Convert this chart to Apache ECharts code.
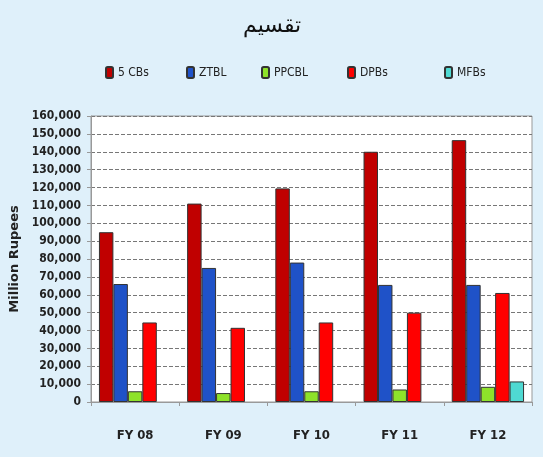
<!DOCTYPE html>
<html><head><meta charset="utf-8">
<script src="https://cdn.jsdelivr.net/npm/echarts@6/dist/echarts.min.js"></script>
<style>html,body{margin:0;padding:0;background:#dff0fa;}#c{width:543px;height:457px;}</style>
</head><body><div id="c"></div>
<script>
var categories = ['FY 08', 'FY 09', 'FY 10', 'FY 11', 'FY 12'];
var cbs5 = [95000, 111000, 119500, 140000, 146500];
var ztbl = [66000, 75000, 78000, 65500, 65500];
var ppcbl = [6000, 5000, 6000, 7000, 8500];
var dpbs = [44500, 41500, 44500, 50000, 61000];
var mfbs = [null, null, null, null, 11500];
var seriesNames = ['5 CBs', 'ZTBL', 'PPCBL', 'DPBs', 'MFBs'];
var colors = ['#c00000', '#1f52c8', '#8ee22a', '#ff0000', '#4fd9d2'];
var legendX = [100, 181, 256, 342, 439];

var chart = echarts.init(document.getElementById('c'));
var dataSets = [cbs5, ztbl, ppcbl, dpbs, mfbs];
var font = '"DejaVu Sans Condensed", "Liberation Sans Narrow", "Arial Narrow", sans-serif';
var legends = seriesNames.map(function (n, i) {
  return {
    data: [n], left: legendX[i], top: 61, itemWidth: 7, itemHeight: 11, itemGap: 4,
    textStyle: { fontFamily: font, fontSize: 12, color: '#222' }, selectedMode: false
  };
});
chart.setOption({
  backgroundColor: '#dff0fa',
  color: colors,
  title: {
    text: 'تقسیم', left: 238, top: 10,
    textStyle: { fontFamily: '"DejaVu Sans", sans-serif', fontSize: 22, fontWeight: 'normal', color: '#111' }
  },
  legend: legends,
  grid: { left: 91, right: 11, top: 116, bottom: 55, outerBoundsMode: 'none', containLabel: false, show: true, backgroundColor: '#fff', borderColor: '#999', borderWidth: 1 },
  xAxis: {
    type: 'category', data: categories,
    axisLine: { lineStyle: { color: '#999' } },
    axisTick: { show: true, length: 4, lineStyle: { color: '#999' } },
    axisLabel: { margin: 27, fontFamily: font, fontWeight: 'bold', fontSize: 13, color: '#222' }
  },
  yAxis: {
    type: 'value', min: 0, max: 160000, interval: 10000,
    name: 'Million Rupees', nameLocation: 'middle', nameGap: 60, nameRotate: 90,
    nameTextStyle: { fontFamily: '"DejaVu Sans", sans-serif', fontWeight: 'bold', fontSize: 13, color: '#222' },
    axisLine: { show: true, lineStyle: { color: '#999' } },
    axisTick: { show: true, length: 4, lineStyle: { color: '#999' } },
    axisLabel: {
      fontFamily: font, fontWeight: 'bold', fontSize: 12, color: '#222', margin: 10,
      formatter: function (v) { return v.toLocaleString('en-US'); }
    },
    splitLine: { lineStyle: { type: 'dashed', color: '#777', width: 1 } }
  },
  series: dataSets.map(function (d, i) {
    return {
      name: seriesNames[i], type: 'bar', data: d,
      barGap: '0%', barCategoryGap: '18%',
      itemStyle: { color: colors[i], borderColor: '#333', borderWidth: 1 }
    };
  })
});
</script></body></html>
